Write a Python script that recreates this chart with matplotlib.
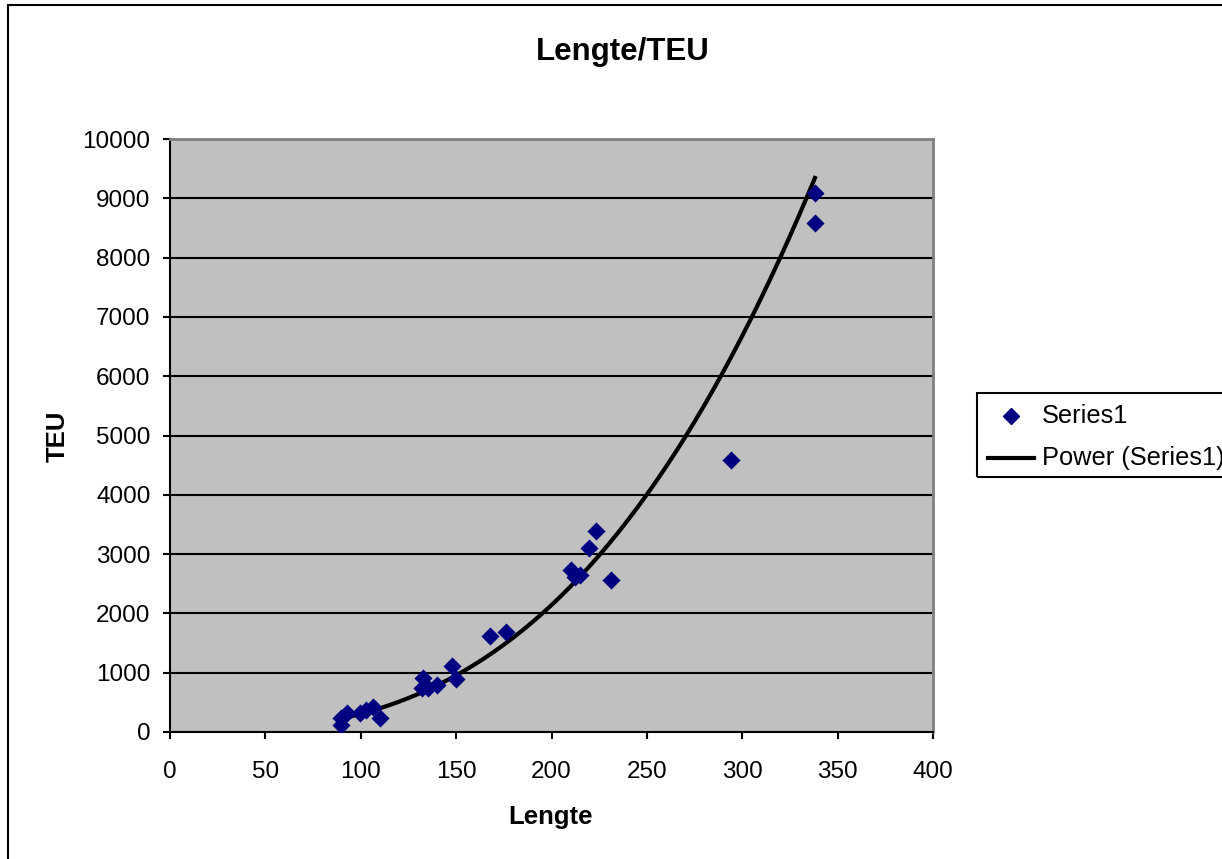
import numpy as np
import matplotlib
matplotlib.use("Agg")
import matplotlib.pyplot as plt
from matplotlib.lines import Line2D
from matplotlib.patches import Rectangle

plt.rcParams['font.family'] = ['Liberation Sans', 'DejaVu Sans']

# Data
lengte = [89.9, 89.9, 92.6, 99.6, 103.0, 106.6, 110.0, 131.9, 132.8, 135.3, 139.8,
          147.6, 149.8, 167.8, 176.0, 210.0, 212.3, 215.0, 219.9, 223.2, 231.4,
          294.1, 338.1, 338.1]
teu = [120, 230, 315, 315, 370, 425, 230, 735, 905, 735, 795,
       1115, 890, 1620, 1680, 2730, 2620, 2650, 3100, 3390, 2560,
       4590, 9095, 8590]

x_ticks = [0, 50, 100, 150, 200, 250, 300, 350, 400]
y_ticks = [0, 1000, 2000, 3000, 4000, 5000, 6000, 7000, 8000, 9000, 10000]

W, H = 1222, 859
fig = plt.figure(figsize=(W / 100, H / 100), dpi=100)
fig.patch.set_facecolor('white')

# chart border (clipped on right and bottom as in reference)
fig.patches.append(Rectangle((8 / W, -0.05), 1.2, 1 - 5 / H + 0.05,
                             transform=fig.transFigure, fill=False,
                             edgecolor='black', linewidth=1.5))

L, R, T, B = 170, 933, 139, 732
ax = fig.add_axes([L / W, 1 - B / H, (R - L) / W, (B - T) / H])
ax.set_facecolor('#C0C0C0')
ax.set_xlim(0, 400)
ax.set_ylim(0, 10000)
ax.set_xticks(x_ticks)
ax.set_yticks(y_ticks)
ax.set_xticklabels([str(v) for v in x_ticks])
ax.set_yticklabels([str(v) for v in y_ticks])
ax.yaxis.grid(True, color='black', linewidth=1.5)
ax.set_axisbelow(True)
for s in ['top', 'right']:
    ax.spines[s].set_color('#808080')
    ax.spines[s].set_linewidth(2)
for s in ['left', 'bottom']:
    ax.spines[s].set_color('black')
    ax.spines[s].set_linewidth(1.5)
ax.tick_params(axis='both', direction='out', length=5, width=1.5,
               labelsize=17.5, colors='black')
ax.tick_params(axis='x', pad=16)
ax.tick_params(axis='y', pad=9)

# power trendline fitted from data
lx = np.log(np.array(lengte))
ly = np.log(np.array(teu))
b, lna = np.polyfit(lx, ly, 1)
xs = np.linspace(min(lengte), max(lengte), 200)
ys = np.exp(lna) * xs ** b
ax.plot(xs, ys, color='black', linewidth=3, zorder=3)
ax.scatter(lengte, teu, marker='D', s=85, color='#000080', zorder=4, linewidths=0)

fig.text(623 / W, 1 - 52 / H, 'Lengte/TEU', ha='center', va='center',
         fontsize=22.5, fontweight='bold')
fig.text(551 / W, 1 - 817 / H, 'Lengte', ha='center', va='center',
         fontsize=18.5, fontweight='bold')
fig.text(58 / W, 1 - 436 / H, 'TEU', ha='center', va='center',
         fontsize=18.5, fontweight='bold', rotation=90)

# legend (box extends beyond the right edge, as in reference)
fig.patches.append(Rectangle((977 / W, 1 - 477 / H), 300 / W, 84 / H,
                             transform=fig.transFigure, fill=False,
                             edgecolor='black', linewidth=1.5))
fig.lines.append(Line2D([1011 / W], [1 - 416 / H], marker='D', markersize=8.5,
                        color='#000080', linestyle='none',
                        transform=fig.transFigure))
fig.lines.append(Line2D([988 / W, 1034 / W], [1 - 458 / H, 1 - 458 / H],
                        color='black', linewidth=3, transform=fig.transFigure))
fig.text(1042 / W, 1 - 416 / H, 'Series1', ha='left', va='center', fontsize=18.3)
fig.text(1042 / W, 1 - 458 / H, 'Power (Series1)', ha='left', va='center', fontsize=18.3)

fig.savefig('out.png', dpi=100)
